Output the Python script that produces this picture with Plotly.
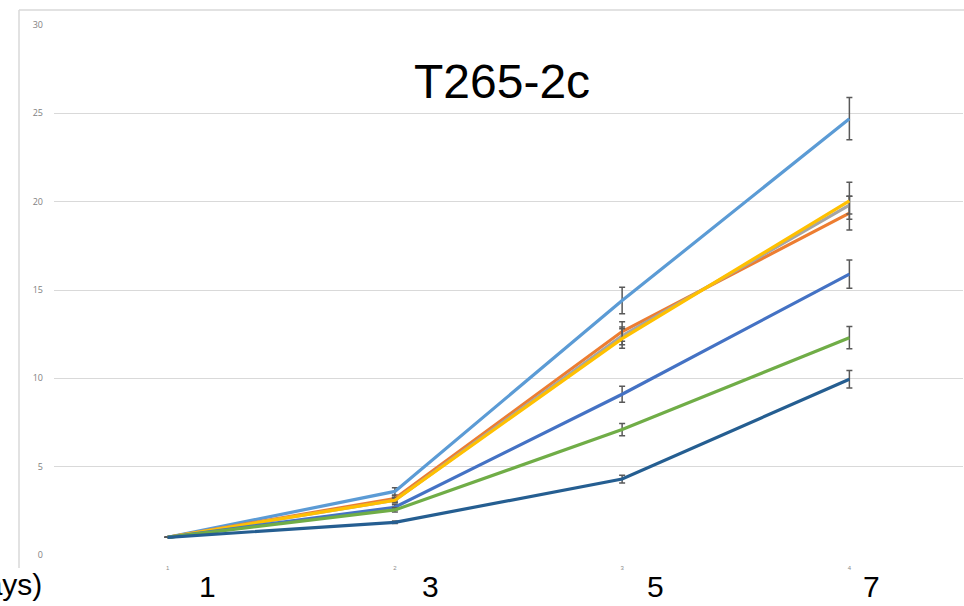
import plotly.graph_objects as go

categories = ["1", "2", "3", "4"]
day_labels = ["1", "3", "5", "7"]
title_text = "T265-2c"
axis_text = "(days)"

series_colors = ["#5B9BD5", "#ED7D31", "#A5A5A5", "#FFC000", "#4472C4", "#70AD47", "#255E91"]
s1 = [1.0, 3.6, 14.4, 24.7]
s2 = [1.0, 3.2, 12.65, 19.35]
s3 = [1.0, 3.1, 12.4, 19.8]
s4 = [1.0, 3.1, 12.25, 20.05]
s5 = [1.0, 2.7, 9.1, 15.9]
s6 = [1.0, 2.55, 7.1, 12.3]
s7 = [1.0, 1.85, 4.3, 9.95]
e1 = [0.0, 0.2, 0.75, 1.2]
e2 = [0.0, 0.15, 0.55, 0.95]
e3 = [0.0, 0.12, 0.5, 0.5]
e4 = [0.0, 0.15, 0.55, 1.05]
e5 = [0.0, 0.15, 0.45, 0.8]
e6 = [0.0, 0.12, 0.35, 0.63]
e7 = [0.0, 0.07, 0.22, 0.5]

series = [s1, s2, s3, s4, s5, s6, s7]
errors = [e1, e2, e3, e4, e5, e6, e7]

W, H = 964, 606
ml, mr, mt, mb = 54, 1, 25, 51
pw = W - ml - mr
ph = H - mt - mb

fig = go.Figure()
for i, (vals, errs) in enumerate(zip(series, errors)):
    fig.add_trace(go.Scatter(
        x=categories, y=vals, mode="lines",
        line=dict(color=series_colors[i], width=3.2),
        error_y=dict(type="data", array=errs, visible=True,
                     color="#595959", thickness=1.5, width=3),
        name=f"Series {i+1}", showlegend=False,
    ))

def px_x(p):
    return (p - ml) / pw

def px_y(p):
    return (H - mb - p) / ph

annotations = [
    dict(text=title_text, x=px_x(502), y=px_y(82), xref="paper", yref="paper",
         showarrow=False, xanchor="center", yanchor="middle",
         font=dict(family="Liberation Sans, Arial", size=48, color="#000000")),
    dict(text=axis_text, x=px_x(44), y=px_y(584), xref="paper", yref="paper",
         showarrow=False, xanchor="right", yanchor="middle",
         font=dict(family="Liberation Sans, Arial", size=30, color="#000000")),
]
label_px = [207, 430, 655, 871]
for lab, p in zip(day_labels, label_px):
    annotations.append(dict(text=lab, x=px_x(p), y=px_y(586), xref="paper", yref="paper",
                            showarrow=False, xanchor="center", yanchor="middle",
                            font=dict(family="Liberation Sans, Arial", size=30, color="#000000")))

shapes = [
    dict(type="line", xref="paper", yref="paper", x0=px_x(19), x1=px_x(19), y0=px_y(10), y1=px_y(568),
         line=dict(color="#d9d9d9", width=1.5)),
    dict(type="line", xref="paper", yref="paper", x0=px_x(19), x1=px_x(964), y0=px_y(10), y1=px_y(10),
         line=dict(color="#d9d9d9", width=1.5)),
]

fig.update_layout(
    width=W, height=H,
    margin=dict(l=ml, r=mr, t=mt, b=mb),
    paper_bgcolor="white", plot_bgcolor="white",
    annotations=annotations, shapes=shapes,
    xaxis=dict(type="category", range=[-0.5, 3.5], showgrid=False, zeroline=False,
               showline=False, ticks="", ticklabelstandoff=8,
               tickfont=dict(family="Liberation Sans, Arial", size=6, color="#8c8c8c")),
    yaxis=dict(range=[0, 30], dtick=5, showgrid=True, gridcolor="#d9d9d9", gridwidth=1,
               zeroline=False, showline=False, ticks="", ticklabelstandoff=10,
               tickfont=dict(family="Open Sans, Arial", size=9, color="#7f7f7f")),
)

fig.write_html("out.html", config={"displayModeBar": False},
               post_script="document.body.style.margin='0';document.body.style.overflow='hidden';")
